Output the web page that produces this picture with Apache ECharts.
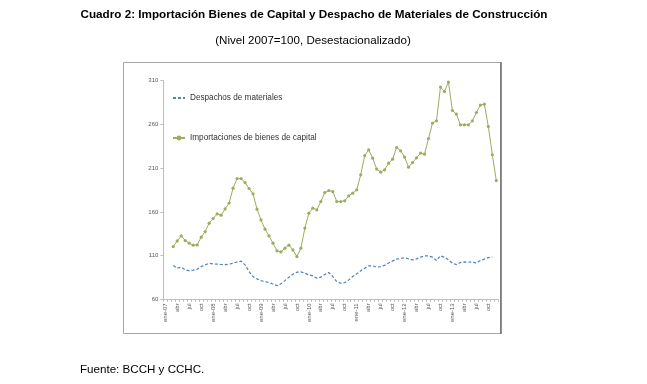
<!DOCTYPE html>
<html>
<head>
<meta charset="utf-8">
<script src="https://cdn.jsdelivr.net/npm/echarts@6/dist/echarts.min.js"></script>
<style>html,body{margin:0;padding:0;background:#fff;}#c{width:647px;height:384px;}</style>
</head>
<body>
<div id="c"></div>
<script>
var monthNames = ['ene','feb','mar','abr','may','jun','jul','ago','sep','oct','nov','dic'];
var years = ['07','08','09','10','11','12','13'];
var yTicks = [60, 110, 160, 210, 260, 310];

// Importaciones de bienes de capital (mar-07 .. dic-13)
var importaciones = [null, null,
  120.3,126.8,132.5,127.2,124.2,121.9,122.2,131.1,137.5,147.1,
  152.3,157.7,156.2,163.4,170,187.1,198.1,198.1,193.5,186.7,
  180.6,163.1,150.8,140.2,132.5,124.2,115.4,114.2,118.5,121.9,
  116.5,108.9,118.5,141.4,158.5,164.2,162.3,171.8,182.1,184.4,
  183.2,171.8,171.8,172.6,178.3,181.4,185.2,202.3,224.4,230.9,
  221.4,208.9,205.4,208.1,215.7,220.3,233.6,229.8,222.6,211.1,
  216.4,221.8,227.2,226,243.9,261.5,264.1,302.7,297.6,308.4,
  275.9,271.8,259.5,259.5,259.5,264.1,273.6,282.1,283.2,257.6,225.2,195.8];

// Despachos de materiales (mar-07 .. nov-13)
var despachos = [null, null,
  98.6,95.6,96.7,93.6,92.8,93.3,94.4,97.4,99.4,101.3,
  100.5,100.2,99.8,99.7,100.2,101.3,102.8,103.6,99.4,91.7,
  86,83.3,81.4,80.3,79.1,77.5,75.7,77.6,81.4,85.3,
  88.7,91,91.4,89.9,87.9,86.8,84.1,85.3,88.3,90.6,
  86,80.3,78.4,79.1,82.2,86,89.1,92.5,95.6,98.2,
  98.2,96.7,97.4,98.8,101.5,103.9,105.9,106.6,107.7,106.2,
  105.1,106.2,108.2,109.7,109.7,108.2,104.3,109.7,108.2,105.1,
  101.3,99.7,102,102.8,102.4,102.8,101.3,104.3,105.9,107.7,
  108.2, null];

var categories = [];
years.forEach(function (y) {
  monthNames.forEach(function (m, i) {
    categories.push(i === 0 ? m + '-' + y : m);
  });
});

var chart = echarts.init(document.getElementById('c'), null, {renderer: 'canvas'});
var FONT = "'Liberation Sans', Arial, sans-serif";
chart.setOption({
  backgroundColor: '#ffffff',
  animation: false,
  graphic: [
    {type: 'rect', z: -10, shape: {x: 123.5, y: 62.5, width: 377, height: 271},
     style: {fill: '#ffffff', stroke: '#a6a6a6', lineWidth: 1}},
    {type: 'line', z: -9, shape: {x1: 501, y1: 62, x2: 501, y2: 334},
     style: {stroke: '#6e6e6e', lineWidth: 1.5}},
    {type: 'text', z: 10,
     style: {text: 'Cuadro 2: Importación Bienes de Capital y Despacho de Materiales de Construcción',
             font: 'bold 11.7px ' + FONT, fill: '#000', x: 314, y: 15, textAlign: 'center', textVerticalAlign: 'middle'}},
    {type: 'text', z: 10,
     style: {text: '(Nivel 2007=100, Desestacionalizado)', font: '11.6px ' + FONT, fill: '#000',
             x: 313, y: 41, textAlign: 'center', textVerticalAlign: 'middle'}},
    {type: 'text', z: 10,
     style: {text: 'Fuente: BCCH y CCHC.', font: '11.6px ' + FONT, fill: '#000',
             x: 80, y: 370, textAlign: 'left', textVerticalAlign: 'middle'}}
  ],
  legend: {
    orient: 'vertical', left: 172, top: 94, itemGap: 32, itemWidth: 12, itemHeight: 6,
    padding: 0,
    textStyle: {fontSize: 8.2, color: '#333333', fontFamily: FONT},
    data: [
      {name: 'Despachos de materiales', itemStyle: {color: 'rgba(0,0,0,0)', borderColor: 'rgba(0,0,0,0)', borderWidth: 0}},
      {name: 'Importaciones de bienes de capital'}
    ]
  },
  grid: {left: 163.3, top: 80.7, width: 335, height: 218.6, containLabel: false},
  xAxis: {
    type: 'category', data: categories, boundaryGap: true,
    axisLine: {lineStyle: {color: '#bfbfbf', width: 1}},
    axisTick: {show: true, interval: 0, length: 2.5, lineStyle: {color: '#bfbfbf'}},
    axisLabel: {interval: 2, rotate: 90, fontSize: 6, color: '#595959', margin: 4, fontFamily: FONT},
    splitLine: {show: false}
  },
  yAxis: {
    type: 'value', min: 60, max: 310, interval: 50,
    axisLine: {show: true, lineStyle: {color: '#bfbfbf', width: 1}},
    axisTick: {show: true, length: 3, lineStyle: {color: '#bfbfbf'}},
    axisLabel: {fontSize: 6, color: '#595959', margin: 5, fontFamily: FONT,
      formatter: function (v) { return yTicks.indexOf(v) >= 0 ? String(v) : ''; }},
    splitLine: {show: false}
  },
  series: [
    {name: 'Despachos de materiales', type: 'line', data: despachos, symbol: 'none',
     connectNulls: false,
     lineStyle: {color: '#4F81BD', width: 1.2, type: [3, 2]}, itemStyle: {color: '#4F81BD'}},
    {name: 'Importaciones de bienes de capital', type: 'line', data: importaciones,
     symbol: 'circle', symbolSize: 3.2, showSymbol: true, showAllSymbol: true,
     lineStyle: {color: '#9BAE5E', width: 1}, itemStyle: {color: '#9BAE5E'}}
  ]
});
</script>
</body>
</html>
